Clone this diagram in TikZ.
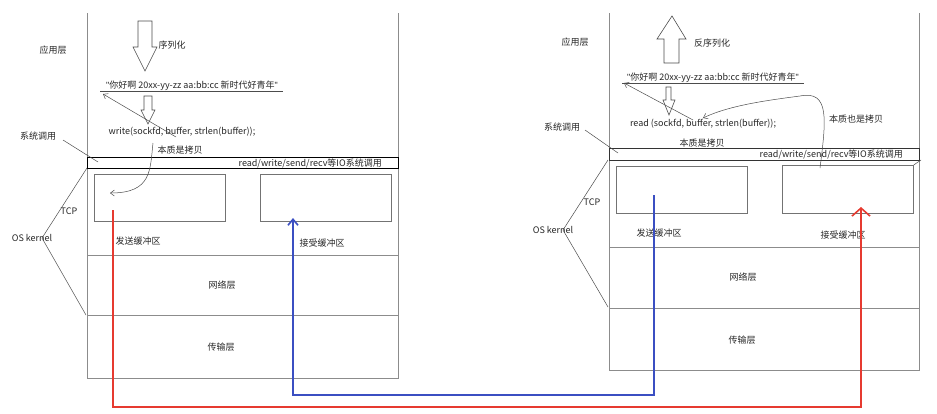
\documentclass[tikz,border=0pt]{standalone}
\usepackage{fontspec}
\setmainfont{Noto Sans CJK SC}
\newfontfamily\latq{Liberation Sans}
\usetikzlibrary{arrows.meta}
\definecolor{myred}{HTML}{E63A30}
\definecolor{myblue}{HTML}{3B4FC2}
\tikzset{
  panel/.style={draw=black!45, line width=0.7pt},
  box/.style={draw=black!55, line width=0.7pt},
  lbl/.style={font=\fontsize{9}{10}\selectfont, inner sep=0pt, text=black!85},
  thin/.style={draw=black!70, line width=0.5pt},
  hollow/.style={draw=black!70, line width=0.6pt, fill=white},
  redline/.style={draw=myred, line width=1.6pt},
  blueline/.style={draw=myblue, line width=1.6pt},
}
\begin{document}
\begin{tikzpicture}[x=1pt,y=-1pt]
\useasboundingbox (0,0) rectangle (937,413);
% ---------- LEFT PANEL ----------
\draw[panel] (87,13) -- (87,378) -- (398,378) -- (398,13);
\draw[panel] (87,255) -- (398,255);
\draw[panel] (87,315) -- (398,315);
\draw[draw=black, line width=0.7pt] (87,157) rectangle (398,168);
\node[box, minimum width=131pt, minimum height=47pt, anchor=north west, inner sep=0pt] (lsend) at (94,174) {};
\node[box, minimum width=131pt, minimum height=47pt, anchor=north west, inner sep=0pt] (lrecv) at (260,174) {};
\node[lbl] (lsendl) at (138,241) {发送缓冲区};
\node[lbl] (lrecvl) at (322,243) {接受缓冲区};
\node[lbl] (lnet) at (222,285) {网络层};
\node[lbl] (ltrans) at (221,347) {传输层};
\node[lbl] (ltcp) at (69,211) {TCP};
\node[lbl] (los) at (32,238) {OS kernel};
\coordinate (losr) at (42,238);
\draw[thin] (87,168) -- (losr) -- (86,315);
\node[lbl] (lsys) at (38,136) {系统调用};
\draw[thin] (63,140) -- (98,162);
\node[lbl] (lapp) at (53,50) {应用层};
\node[lbl, anchor=east] (lband) at (382,163) {read/write/send/recv等IO系统调用};
% hollow down arrow
\draw[hollow] (138,21) -- (152,21) -- (152,47) -- (157,47) -- (145,71) -- (133,47) -- (138,47) -- cycle;
\node[lbl] (lser) at (172,45) {序列化};
\node[lbl] (lquote) at (192,86) {{\latq"}你好啊 20xx-yy-zz aa:bb:cc 新时代好青年{\latq"}};
\draw[thin] (100,91.5) -- (283,91.5);
\draw[hollow] (144,96) -- (152,96) -- (152,110) -- (155,110) -- (148,124) -- (141,110) -- (144,110) -- cycle;
\node[lbl] (lwrite) at (182,132) {write(sockfd, buffer, strlen(buffer));};
\coordinate (lqs) at (103,94);
\draw[thin, -{Straight Barb[length=4pt,width=6pt]}] (176,137) -- (lqs);
\node[lbl] (lcopy) at (180,150) {本质是拷贝};
\coordinate (lcs) at (153,143);
\coordinate (lce) at (110,193);
\draw[thin, -{Straight Barb[length=4pt,width=6pt]}] (lcs) .. controls (150,170) and (152,193) .. (lce);
% ---------- RIGHT PANEL ----------
\draw[panel] (609,13) -- (609,370) -- (919,370) -- (919,13);
\draw[panel] (609,247) -- (919,247);
\draw[panel] (609,308) -- (919,308);
\draw[draw=black!80, line width=0.7pt] (609,148) rectangle (919,160);
\node[box, minimum width=131pt, minimum height=47pt, anchor=north west, inner sep=0pt] (rsend) at (616,166) {};
\node[box, minimum width=131pt, minimum height=48pt, anchor=north west, inner sep=0pt] (rrecv) at (782,165) {};
\draw[thin] (rrecv.north east) -- (921,160);
\node[lbl] (rsendl) at (659,233) {发送缓冲区};
\node[lbl] (rrecvl) at (843,235) {接受缓冲区};
\node[lbl] (rnet) at (743,277) {网络层};
\node[lbl] (rtrans) at (742,340) {传输层};
\node[lbl] (rtcp) at (592,202) {TCP};
\node[lbl] (ros) at (553,230) {OS kernel};
\coordinate (rosr) at (563,230);
\draw[thin] (608,160) -- (rosr) -- (608,307);
\node[lbl] (rsys) at (562,127) {系统调用};
\draw[thin] (585,130) -- (618,153);
\node[lbl] (rapp) at (575,42) {应用层};
\node[lbl, anchor=east] (rband) at (903,154) {read/write/send/recv等IO系统调用};
% hollow up arrow
\draw[hollow] (664,63) -- (679,63) -- (679,39) -- (686,39) -- (672,16) -- (657,39) -- (664,39) -- cycle;
\node[lbl] (rdeser) at (712,43) {反序列化};
\node[lbl] (rquote) at (713,78) {{\latq"}你好啊 20xx-yy-zz aa:bb:cc 新时代好青年{\latq"}};
\draw[thin] (622,83.5) -- (804,83.5);
\draw[hollow] (666,87) -- (671,87) -- (671,100) -- (675,100) -- (669,115) -- (663,100) -- (666,100) -- cycle;
\node[lbl] (rread) at (703,124) {read (sockfd, buffer, strlen(buffer));};
\coordinate (rqs) at (624,83);
\draw[thin, -{Straight Barb[length=4pt,width=6pt]}] (693,120) -- (rqs);
\node[lbl] (rcopy) at (702,143) {本质是拷贝};
\node[lbl] (rcopy2) at (856,119) {本质也是拷贝};
\coordinate (rcs) at (820,168);
\coordinate (rce) at (703,118);
\draw[thin, -{Straight Barb[length=4pt,width=6pt]}] (rcs) .. controls (826,120) and (830,90) .. (800,96) .. controls (770,100) and (730,105) .. (rce);
% ---------- DATA FLOW ----------
\coordinate (rs) at (113,210);
\coordinate (re) at (861,207);
\draw[redline, -{Straight Barb[length=8pt,width=18pt]}] (rs) -- (113,407) -- (861,407) -- (re);
\coordinate (bs) at (654,195);
\coordinate (be) at (293,218);
\draw[blueline, -{Straight Barb[length=6pt,width=10pt]}] (bs) -- (654,395) -- (293,395) -- (be);
\end{tikzpicture}
\end{document}
